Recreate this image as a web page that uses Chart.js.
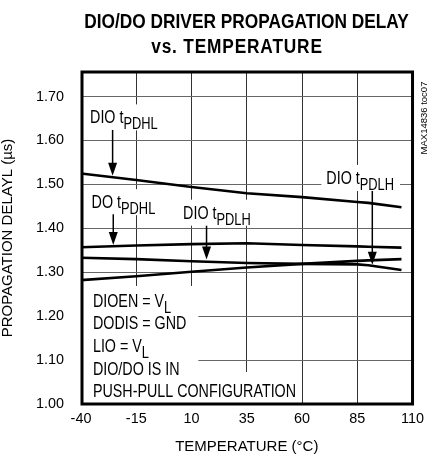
<!DOCTYPE html>
<html>
<head>
<meta charset="utf-8">
<script src="https://cdn.jsdelivr.net/npm/chart.js@4.4.1/dist/chart.umd.min.js"></script>
<style>
  html, body { margin: 0; padding: 0; background: #fff; }
  canvas { display: block; }
</style>
</head>
<body>
<canvas id="chart" width="430" height="463"></canvas>
<script>
// data
const temps = [-40, -15, 10, 35, 60, 85, 90, 105]
const dioTpdhl = [1.525, 1.510, 1.494, 1.480, 1.471, 1.460, 1.458, 1.448]
const doTpdhl = [1.357, 1.361, 1.364, 1.366, 1.362, 1.359, 1.358, 1.356]
const dioTpdlhFall = [1.333, 1.330, 1.325, 1.321, 1.319, 1.318, 1.316, 1.305]
const dioTpdlhRise = [1.282, 1.291, 1.301, 1.311, 1.319, 1.326, 1.327, 1.330]

const xTicks = [-40, -15, 10, 35, 60, 85, 110]
const yTicks = [1.00, 1.10, 1.20, 1.30, 1.40, 1.50, 1.60, 1.70]

const titleLines = ['DIO/DO DRIVER PROPAGATION DELAY', 'vs. TEMPERATURE']

// annotations, placed in data units (temp, delay)
const curveLabels = [
	{ parts: [['DIO t', 0], ['PDHL', 1]], at: [-35.9, 1.639] },
	{ parts: [['DO t', 0], ['PDHL', 1]], at: [-35.2, 1.446] },
	{ parts: [['DIO t', 0], ['PDLH', 1]], at: [6.2, 1.422] },
	{ parts: [['DIO t', 0], ['PDLH', 1]], at: [71.0, 1.501] },
]
const arrows = [
	{ x: -25.7, from: 1.624, to: 1.520 },
	{ x: -25.4, from: 1.432, to: 1.362 },
	{ x: 16.8, from: 1.406, to: 1.329 },
	{ x: 91.8, from: 1.485, to: 1.317 },
]
const conditions = [
	[['DIOEN = V', 0], ['L', 1]],
	[['DODIS = GND', 0]],
	[['LIO = V', 0], ['L', 1]],
	[['DIO/DO IS IN', 0]],
	[['PUSH-PULL CONFIGURATION', 0]],
]
const condX = -34.6
const condY = [1.221, 1.170, 1.118, 1.067, 1.016]

const FAMILY = '"Liberation Sans", Arial, sans-serif'
// the original uses a narrow face; plugin text is squeezed to mimic it
const NARROW = 0.82

const MAIN = 14.3      // Arial-equivalent size (same width)
const SUB_SCALE = 0.9
const SUB_DROP = 6

function setFont(ctx, size, bold) {
	ctx.font = `${bold ? 'bold ' : ''}${(size / NARROW).toFixed(2)}px ${FAMILY}`
}

// squeezed text, left aligned at x; returns drawn width
function narrowText(ctx, txt, x, y, paint) {
	const w = ctx.measureText(txt).width * NARROW
	if (paint) {
		ctx.save()
		ctx.translate(x, y)
		ctx.scale(NARROW, 1)
		ctx.fillText(txt, 0, 0)
		ctx.restore()
	}
	return w
}

// text with subscript parts, returns width
function richText(ctx, parts, x, y, paint) {
	let cx = x
	parts.forEach(([txt, isSub]) => {
		setFont(ctx, isSub ? MAIN * SUB_SCALE : MAIN)
		cx += narrowText(ctx, txt, cx, isSub ? y + SUB_DROP : y, paint)
	})
	return cx - x
}

const overlay = {
	id: 'overlay',
	beforeDatasetsDraw(chart) {
		const { ctx, chartArea: area, scales: { x, y } } = chart
		ctx.save()
		ctx.fillStyle = '#fff'
		// boxes behind curve labels
		curveLabels.forEach(l => {
			const lx = x.getPixelForValue(l.at[0]), ly = y.getPixelForValue(l.at[1])
			const w = richText(ctx, l.parts, lx, ly, false)
			ctx.fillRect(lx - 5, ly - 19, w + 11, 26)
		})
		// boxes behind condition block
		const cx = x.getPixelForValue(condX)
		const widths = conditions.map(p => richText(ctx, p, cx, 0, false))
		const top = y.getPixelForValue(condY[0]) - 21
		const split = y.getPixelForValue(condY[4]) - 25
		ctx.fillRect(area.left, top, cx + Math.max(...widths.slice(0, 4)) + 12 - area.left, split - top)
		ctx.fillRect(area.left, split, cx + widths[4] + 5 - area.left, area.bottom - split)
		ctx.restore()
	},
	afterDraw(chart) {
		const { ctx, chartArea: area, scales: { x, y } } = chart
		ctx.save()
		ctx.fillStyle = '#000'
		ctx.strokeStyle = '#000'
		ctx.textBaseline = 'alphabetic'
		ctx.textAlign = 'left'

		curveLabels.forEach(l => {
			richText(ctx, l.parts, x.getPixelForValue(l.at[0]), y.getPixelForValue(l.at[1]), true)
		})
		conditions.forEach((p, i) => {
			richText(ctx, p, x.getPixelForValue(condX), y.getPixelForValue(condY[i]), true)
		})

		// arrows
		arrows.forEach(a => {
			const ax = x.getPixelForValue(a.x)
			const y0 = y.getPixelForValue(a.from), y1 = y.getPixelForValue(a.to)
			ctx.lineWidth = 1.5
			ctx.beginPath()
			ctx.moveTo(ax, y0)
			ctx.lineTo(ax, y1 - 10)
			ctx.stroke()
			ctx.beginPath()
			ctx.moveTo(ax - 4.5, y1 - 13)
			ctx.lineTo(ax + 4.5, y1 - 13)
			ctx.lineTo(ax, y1)
			ctx.closePath()
			ctx.fill()
		})

		// frame
		ctx.lineWidth = 3
		ctx.strokeRect(area.left + 1, area.top, area.right - area.left - 1, area.bottom - area.top)

		// title, centred by hand
		setFont(ctx, 17.3, true)
		const w1 = narrowText(ctx, titleLines[0], 0, 0, false)
		narrowText(ctx, titleLines[0], 246.5 - w1 / 2, 28, true)
		ctx.letterSpacing = '1px'
		const w2 = narrowText(ctx, titleLines[1], 0, 0, false)
		narrowText(ctx, titleLines[1], 237 - w2 / 2, 53, true)
		ctx.letterSpacing = '0px'

		// corner figure code
		ctx.font = `9.5px ${FAMILY}`
		ctx.translate(area.right + 11.5, area.top + 46)
		ctx.rotate(-Math.PI / 2)
		ctx.textAlign = 'center'
		ctx.textBaseline = 'middle'
		ctx.fillText('MAX14836 toc07', 0, 0)
		ctx.restore()
	}
}

const series = [dioTpdhl, doTpdhl, dioTpdlhFall, dioTpdlhRise]
const seriesNames = ['DIO tPDHL', 'DO tPDHL', 'DIO tPDLH', 'DO tPDLH']

new Chart(document.getElementById('chart'), {
	type: 'line',
	data: {
		datasets: series.map((vals, i) => ({
			label: seriesNames[i],
			data: temps.map((t, j) => ({ x: t, y: vals[j] })),
			borderColor: '#000',
			borderWidth: 2.6,
			pointRadius: 0,
			tension: 0,
			fill: false
		}))
	},
	options: {
		responsive: false,
		animation: false,
		devicePixelRatio: 1,
		layout: { padding: { top: 72, right: 17, left: 0, bottom: 0 } },
		plugins: {
			legend: { display: false },
			title: { display: false },
			tooltip: { enabled: false }
		},
		scales: {
			x: {
				type: 'linear',
				min: -40,
				max: 110,
				afterBuildTicks: s => { s.ticks = xTicks.map(v => ({ value: v })) },
				afterFit: s => { s.height = 59 },
				ticks: {
					color: '#000',
					font: { family: FAMILY, size: 14.4 },
					padding: 6,
					maxRotation: 0,
					autoSkip: false
				},
				grid: { color: '#333', lineWidth: 1, drawTicks: false },
				border: { display: false },
				title: {
					display: true,
					text: 'TEMPERATURE (°C)',
					color: '#000',
					font: { family: FAMILY, size: 15, lineHeight: '18px' },
					padding: { top: 0, bottom: 7 }
				}
			},
			y: {
				min: 1.0,
				max: 1.756,
				afterBuildTicks: s => { s.ticks = yTicks.map(v => ({ value: v })) },
				afterFit: s => { s.width = 81 },
				ticks: {
					color: '#000',
					font: { family: FAMILY, size: 14.4 },
					padding: 17,
					callback: v => v.toFixed(2)
				},
				grid: { color: '#666', lineWidth: 1, drawTicks: false },
				border: { display: false },
				title: {
					display: true,
					text: 'PROPAGATION DELAYL (µs)',
					color: '#000',
					font: { family: FAMILY, size: 15, lineHeight: '16px' },
					padding: { top: 0, bottom: 0 }
				}
			}
		}
	},
	plugins: [overlay]
})
</script>
</body>
</html>
